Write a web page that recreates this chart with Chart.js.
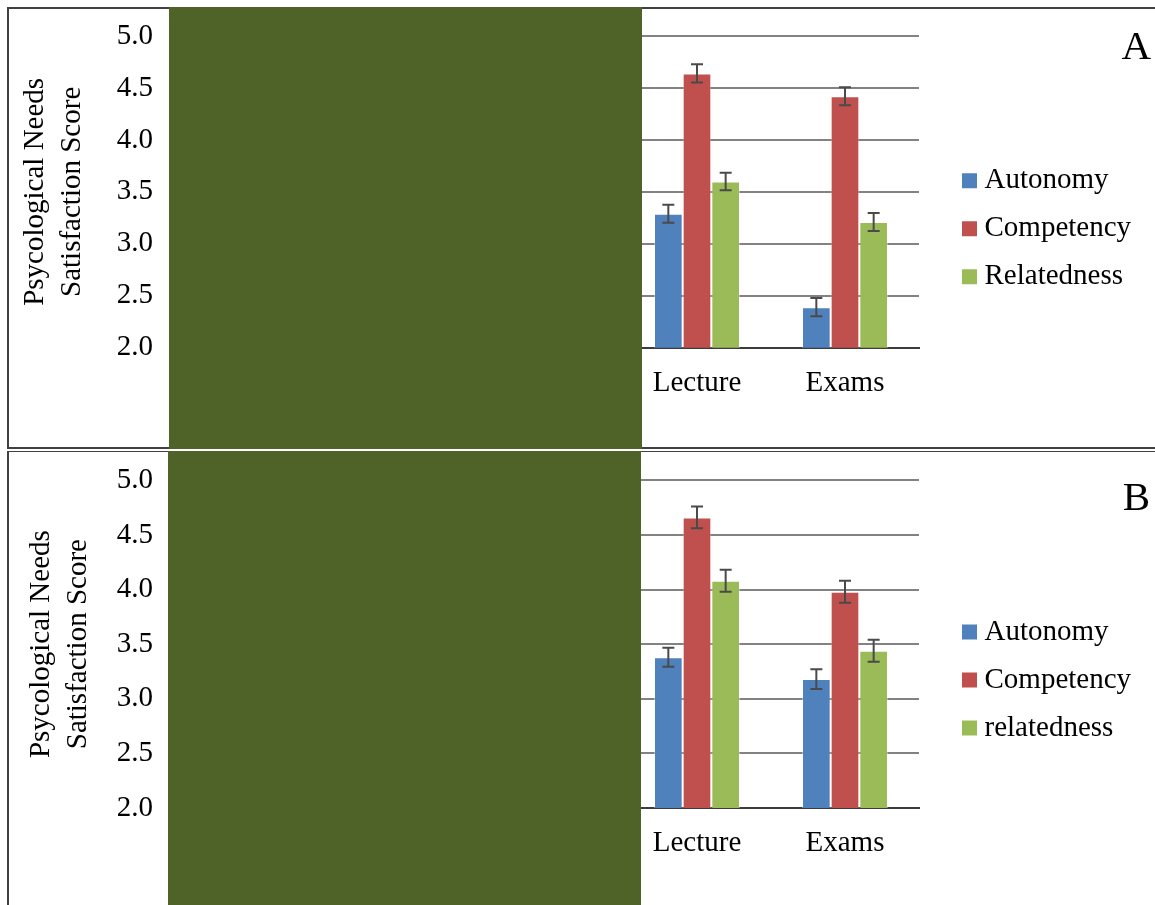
<!DOCTYPE html>
<html>
<head>
<meta charset="utf-8">
<script src="https://cdn.jsdelivr.net/npm/chart.js@4"></script>
<style>
  html, body { margin: 0; padding: 0; background: #fff; overflow: hidden; }
  body { width: 1155px; height: 905px; position: relative; font-family: "Liberation Serif", "Times New Roman", serif; }
  .frame { position: absolute; left: 7px; width: 1300px; box-sizing: border-box; border: 2px solid #404040; }
  .box { position: absolute; left: 0; width: 1155px; }
  .mask { position: absolute; background: #4f6228; z-index: 2; }
  .tag { position: absolute; font-size: 41px; line-height: 41px; color: #000; z-index: 3; }
</style>
</head>
<body>
<div class="frame" style="top:7px; height:442px;"></div>
<div class="frame" style="top:451px; height:500px; border-width:1.5px 2px;"></div>

<div class="box" style="top:0; height:449px;"><canvas id="chartA" width="1155" height="449"></canvas></div>
<div class="box" style="top:450px; height:455px;"><canvas id="chartB" width="1155" height="455"></canvas></div>

<div class="mask" style="left:169px; top:7px; width:473px; height:442px;"></div>
<div class="mask" style="left:168px; top:451px; width:473px; height:454px;"></div>

<div class="tag" style="right:4px; top:25px;">A</div>
<div class="tag" style="right:5px; top:476px;">B</div>

<script>
    var categories = ['Lecture', 'Exams'];
    var yTickLabels = ['2.0', '2.5', '3.0', '3.5', '4.0', '4.5', '5.0'];
    var yTitle = ['Psycological Needs', 'Satisfaction Score'];

    // panel A
    var autonomyA = [3.29, 2.39];
    var competencyA = [4.64, 4.42];
    var relatednessA = [3.60, 3.21];
    var autonomyErrA = [0.087, 0.088];
    var competencyErrA = [0.088, 0.087];
    var relatednessErrA = [0.085, 0.087];
    var namesA = ['Autonomy', 'Competency', 'Relatedness'];

    // panel B
    var autonomyB = [3.38, 3.18];
    var competencyB = [4.66, 3.98];
    var relatednessB = [4.08, 3.44];
    var autonomyErrB = [0.088, 0.09];
    var competencyErrB = [0.10, 0.10];
    var relatednessErrB = [0.10, 0.10];
    var namesB = ['Autonomy', 'Competency', 'relatedness'];

    var colors = ['#4f81bd', '#c0504d', '#9bbb59'];
    var serif = 'Liberation Serif';

    // error bars drawn with the y scale
    var errorBars = {
        id: 'errorBars',
        afterDatasetsDraw(chart) {
            var ctx = chart.ctx, y = chart.scales.y;
            ctx.save();
            ctx.strokeStyle = '#4a4a4a';
            ctx.lineWidth = 2;
            chart.data.datasets.forEach(function (ds, i) {
                chart.getDatasetMeta(i).data.forEach(function (bar, j) {
                    var top = y.getPixelForValue(ds.data[j] + ds.errors[j]);
                    var bot = y.getPixelForValue(ds.data[j] - ds.errors[j]);
                    ctx.beginPath();
                    ctx.moveTo(bar.x, top); ctx.lineTo(bar.x, bot);
                    ctx.moveTo(bar.x - 6, top); ctx.lineTo(bar.x + 6, top);
                    ctx.moveTo(bar.x - 6, bot); ctx.lineTo(bar.x + 6, bot);
                    ctx.stroke();
                });
            });
            ctx.restore();
        }
    };

    // empty axis used only as a spacer
    function spacer(position, width) {
        return {
            position: position, weight: 0,
            grid: { display: false }, border: { display: false }, ticks: { display: false },
            afterFit: function (s) { s.width = width; }
        };
    }

    function makeChart(id, names, values, errors, pad, xAxisHeight) {
        var datasets = names.map(function (n, i) {
            return {
                label: n, data: values[i], errors: errors[i],
                backgroundColor: colors[i],
                borderColor: 'rgba(255,255,255,0.35)', borderWidth: 1,
                categoryPercentage: 0.581, barPercentage: 1
            };
        });
        var chart = new Chart(document.getElementById(id), {
            type: 'bar',
            data: { labels: categories, datasets: datasets },
            plugins: [errorBars],
            options: {
                responsive: false,
                animation: false,
                layout: { padding: pad },
                scales: {
                    x: {
                        grid: { display: false, drawTicks: false },
                        border: { color: '#3c3c3c', width: 2 },
                        ticks: { padding: 18, color: '#000', font: { family: serif, size: 29 } },
                        afterFit: function (s) { s.height = xAxisHeight; }
                    },
                    y: {
                        min: 2, max: 5, weight: 1,
                        ticks: {
                            stepSize: 0.5, padding: 8, color: '#000',
                            font: { family: serif, size: 29 },
                            callback: function (v, i) { return yTickLabels[i]; }
                        },
                        grid: { color: '#828282', lineWidth: 2, drawTicks: false },
                        border: { display: false },
                        title: {
                            display: true, text: yTitle, color: '#000', padding: 0,
                            font: { family: serif, size: 29, lineHeight: 1.27 }
                        },
                        afterFit: function (s) { s.width = 161 - pad.left; }
                    },
                    gapL: spacer('left', 462),
                    gapR: spacer('right', 31)
                },
                plugins: {
                    tooltip: { enabled: false },
                    legend: {
                        position: 'right',
                        maxWidth: 400,
                        labels: {
                            boxWidth: 1, boxHeight: 1, padding: 19,
                            color: '#000', font: { family: serif, size: 29 },
                            generateLabels: function (chart) {
                                return Chart.defaults.plugins.legend.labels.generateLabels(chart).map(function (l) {
                                    l.lineWidth = 14;
                                    l.strokeStyle = l.fillStyle;
                                    return l;
                                });
                            }
                        }
                    }
                }
            }
        });
        // put the legend's left edge at 950 whatever its measured width
        pad.right = 1155 - 950 - chart.legend.width;
        chart.update();
        return chart;
    }

    makeChart('chartA', namesA,
        [autonomyA, competencyA, relatednessA],
        [autonomyErrA, competencyErrA, relatednessErrA],
        { left: 17, top: 36, right: 0, bottom: 27.6 }, 73.7);

    makeChart('chartB', namesB,
        [autonomyB, competencyB, relatednessB],
        [autonomyErrB, competencyErrB, relatednessErrB],
        { left: 23, top: 30.3, right: 0, bottom: 25.3 }, 71.7);
</script>
</body>
</html>
